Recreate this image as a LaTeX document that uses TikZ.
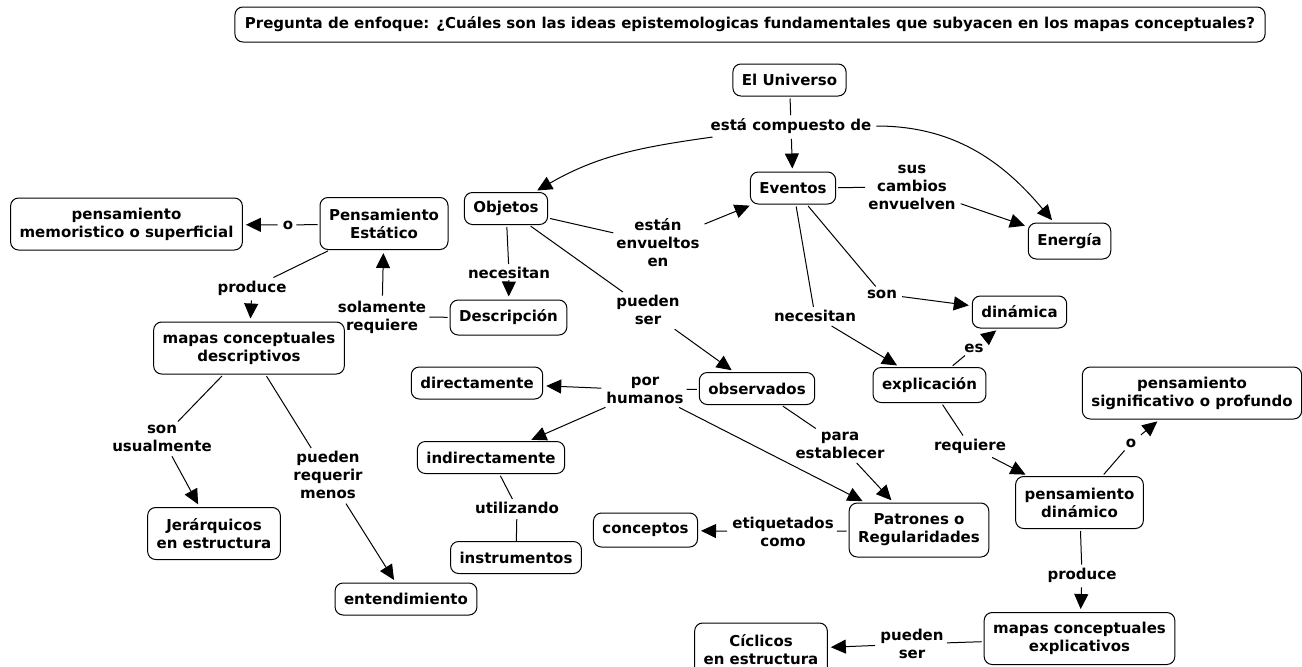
\documentclass[tikz,border=0pt]{standalone}
\usepackage{fontspec}
\setmainfont{DejaVu Sans}
\usetikzlibrary{arrows.meta}
\begin{document}
\begin{tikzpicture}[x=1pt,y=-1pt,
  every node/.style={font=\fontsize{15}{18}\selectfont\bfseries, align=center},
  concept/.style={draw, line width=1pt, rounded corners=8pt, inner xsep=9pt, inner ysep=3pt, minimum height=32pt},
  concepttwo/.style={concept, minimum height=52pt},
  lbl/.style={inner sep=3pt},
  link/.style={line width=1pt, shorten <=2pt},
  arr/.style={link, -{Triangle[length=15pt,width=14pt]}, shorten >=3pt},
]
\fill[white] (0,0) rectangle (1302,667);
\useasboundingbox (0,0) rectangle (1302,667);

% title
\node[concept, minimum height=35pt, inner xsep=10pt] (title) at (750,24.5) {Pregunta de enfoque: ¿Cuáles son las ideas epistemologicas fundamentales que subyacen en los mapas conceptuales?};

% concepts
\node[concept] (uni) at (789.5,80) {El Universo};
\node[concept] (eve) at (793,188) {Eventos};
\node[concept] (obj) at (506,208.5) {Objetos};
\node[concept, minimum height=36pt] (ene) at (1069.5,241) {Energía};
\node[concepttwo] (pe) at (384,223.5) {Pensamiento\\Estático};
\node[concepttwo] (pm) at (126.5,224) {pensamiento\\memoristico o superficial};
\node[concept, minimum height=35pt] (des) at (508.5,317.5) {Descripción};
\node[concepttwo] (mcd) at (249,348) {mapas conceptuales\\descriptivos};
\node[concept] (din) at (1019.5,312) {dinámica};
\node[concept, minimum height=35pt] (exp) at (929.5,385) {explicación};
\node[concept] (obs) at (757,388.5) {observados};
\node[concept] (dir) at (477,383) {directamente};
\node[concept] (ind) at (491,457.5) {indirectamente};
\node[concepttwo, minimum height=54pt] (pat) at (919,530) {Patrones o\\Regularidades};
\node[concept] (ins) at (516,557.5) {instrumentos};
\node[concept, minimum height=34pt] (con) at (645.5,530) {conceptos};
\node[concepttwo] (ps) at (1192,393) {pensamiento\\significativo o profundo};
\node[concepttwo] (pd) at (1079.5,502.5) {pensamiento\\dinámico};
\node[concepttwo] (mce) at (1079.5,638.5) {mapas conceptuales\\explicativos};
\node[concepttwo, minimum height=54pt] (cic) at (761,650) {Cíclicos\\en estructura};
\node[concepttwo] (jer) at (214,533.5) {Jerárquicos\\en estructura};
\node[concept] (ent) at (406,599) {entendimiento};

% linking phrases
\node[lbl] (l1) at (791,126) {está compuesto de};
\node[lbl] (l2) at (912,187) {sus\\cambios\\envuelven};
\node[lbl] (l3) at (658,243) {están\\envueltos\\en};
\node[lbl] (l4) at (509,273) {necesitan};
\node[lbl] (l5) at (648,310) {pueden\\ser};
\node[lbl] (l6) at (815,316) {necesitan};
\node[lbl] (l7) at (882,294) {son};
\node[lbl] (l8) at (974,348) {es};
\node[lbl] (l9) at (970,446) {requiere};
\node[lbl] (l10) at (1131,443) {o};
\node[lbl] (l11) at (1082,575) {produce};
\node[lbl] (l12) at (912,644) {pueden\\ser};
\node[lbl] (l13) at (645,390) {por\\humanos};
\node[lbl] (l14) at (840,445) {para\\establecer};
\node[lbl] (l15) at (517,508) {utilizando};
\node[lbl] (l16) at (783,532) {etiquetados\\como};
\node[lbl] (l17) at (288,225) {o};
\node[lbl] (l18) at (252,288) {produce};
\node[lbl] (l19) at (382,317) {solamente\\requiere};
\node[lbl] (l20) at (162,438) {son\\usualmente};
\node[lbl] (l21) at (328,475) {pueden\\requerir\\menos};

% connectors
\draw[link] (uni) -- (l1);
\draw[arr] (l1) -- (eve);
\draw[arr] (l1) to[out=188,in=30] (obj);
\draw[arr] (l1) to[out=0,in=130] (ene);
\draw[link] (eve) -- (l2);
\draw[arr] (l2) -- (ene);
\draw[link] (obj) -- (l3);
\draw[arr] (l3) -- (eve);
\draw[link] (obj) -- (l4);
\draw[arr] (l4) -- (des);
\draw[link] (obj) -- (l5);
\draw[arr] (l5) -- (obs);
\draw[link] (eve) -- (l6);
\draw[arr] (l6) -- (exp);
\draw[link] (eve) -- (l7);
\draw[arr] (l7) -- (din);
\draw[link] (exp) -- (l8);
\draw[arr] (l8) -- (din);
\draw[link] (exp) -- (l9);
\draw[arr] (l9) -- (pd);
\draw[link] (pd) -- (l10);
\draw[arr] (l10) -- (ps);
\draw[link] (pd) -- (l11);
\draw[arr] (l11) -- (mce);
\draw[link] (mce) -- (l12);
\draw[arr] (l12) -- (cic);
\draw[link] (obs) -- (l13);
\draw[arr] (l13) -- (dir);
\draw[arr] (l13) -- (ind);
\draw[arr] (l13) -- (pat);
\draw[link] (obs) -- (l14);
\draw[arr] (l14) -- (pat);
\draw[link] (ind) -- (l15);
\draw[link] (l15) -- (ins);
\draw[link] (pat) -- (l16);
\draw[arr] (l16) -- (con);
\draw[link] (pe) -- (l17);
\draw[arr] (l17) -- (pm);
\draw[link] (pe) -- (l18);
\draw[arr] (l18) -- (mcd);
\draw[link] (des) -- (l19);
\draw[arr] (l19) -- (pe);
\draw[link] (mcd) -- (l20);
\draw[arr] (l20) -- (jer);
\draw[link] (mcd) -- (l21);
\draw[arr] (l21) -- (ent);
\end{tikzpicture}
\end{document}
